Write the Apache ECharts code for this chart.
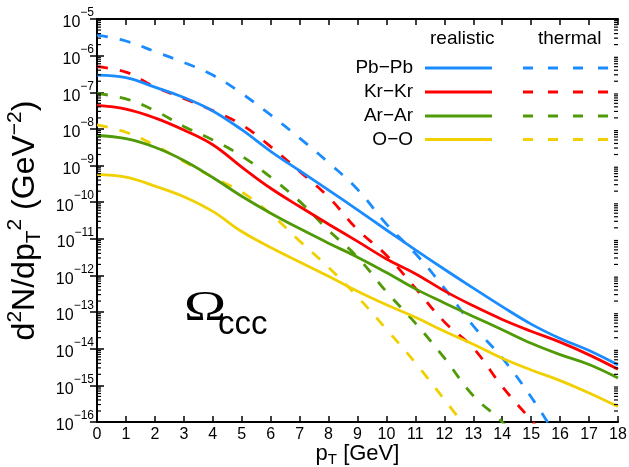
<!DOCTYPE html>
<html>
<head>
<meta charset="utf-8">
<script src="https://cdn.jsdelivr.net/npm/echarts@6/dist/echarts.min.js"></script>
<style>
html,body{margin:0;padding:0;background:#fff;}
#chart{width:629px;height:467px;}
</style>
</head>
<body>
<div id="chart"></div>
<script>
// ---- data ----
const pT = [0,1,2,3,4,5,6,7,8,9,10,11,12,13,14,15,16,17,18];
const systems = ['Pb\u2212Pb', 'Kr\u2212Kr', 'Ar\u2212Ar', 'O\u2212O'];
const colors = ['#1a8cff', '#ff0000', '#4f9a06', '#f0d000'];

// realistic (solid)
const pbRealistic = [2.95e-7,2.51e-7,1.38e-7,7.2e-8,3.1e-8,9.5e-9,2.45e-9,7.2e-10,2.14e-10,6.2e-11,1.74e-11,5.0e-12,1.48e-12,4.5e-13,1.41e-13,4.7e-14,1.9e-14,8.9e-15,3.6e-15];
const krRealistic = [4.37e-8,3.47e-8,2.0e-8,9.3e-9,3.7e-9,9.1e-10,2.4e-10,7.6e-11,2.51e-11,8.5e-12,2.82e-12,1.12e-12,3.8e-13,1.48e-13,6.3e-14,3.0e-14,1.51e-14,6.8e-15,2.75e-15];
const arRealistic = [6.6e-9,5.4e-9,3.16e-9,1.38e-9,4.7e-10,1.45e-10,5.0e-11,1.9e-11,7.6e-12,3.16e-12,1.2e-12,4.3e-13,1.78e-13,7.6e-14,3.3e-14,1.41e-14,6.9e-15,3.7e-15,1.58e-15];
const ooRealistic = [5.75e-10,4.8e-10,2.75e-10,1.41e-10,5.6e-11,1.58e-11,5.8e-12,2.34e-12,9.5e-13,3.7e-13,1.58e-13,7.2e-14,3.0e-14,1.32e-14,5.5e-15,2.63e-15,1.35e-15,6.2e-16,2.63e-16];

// thermal (dashed)
const pbThermal = [3.63e-6,2.51e-6,1.29e-6,6.5e-7,2.95e-7,9.3e-8,2.4e-8,5.6e-9,1.2e-9,2.24e-10,2.51e-11,3.98e-12,4.5e-13,4.2e-14,5.6e-15,4.8e-16,2.8e-17];
const krThermal = [5.0e-7,3.55e-7,1.4e-7,6.8e-8,3.16e-8,1.29e-8,3.3e-9,6.9e-10,1.38e-10,1.78e-11,3.55e-12,4.5e-13,5.4e-14,1.05e-14,9.3e-16,1.12e-16,1.26e-17];
const arThermal = [9.3e-8,6.6e-8,3.16e-8,1.17e-8,5.0e-9,1.82e-9,4.8e-10,1.05e-10,1.7e-11,3.16e-12,3.6e-13,5.0e-14,5.6e-15,5.2e-16,1.0e-16,1.0e-17];
const ooThermal = [1.29e-8,8.1e-9,3.55e-9,1.29e-9,4.8e-10,1.9e-10,4.8e-11,8.7e-12,1.66e-12,2.63e-13,3.4e-14,4.1e-15,4.1e-16,4.0e-17];

const yDecades = [-16,-15,-14,-13,-12,-11,-10,-9,-8,-7,-6,-5];
const minorMantissas = [2,3,4,5,6,7,8,9];

// ---- build ----
const FONT = '"Liberation Sans", Arial, Helvetica, sans-serif';
function pairs(vals){ return vals.map((v,i)=>[pT[i], v]); }

const realistic = [pbRealistic, krRealistic, arRealistic, ooRealistic];
const thermal = [pbThermal, krThermal, arThermal, ooThermal];

const series = [];
realistic.forEach((vals, i) => {
  series.push({
    type: 'line', name: systems[i] + ' realistic', data: pairs(vals),
    showSymbol: false, smooth: 0.4, clip: true,
    lineStyle: {color: colors[i], width: 2.8, type: 'solid'},
    z: 3
  });
});
thermal.forEach((vals, i) => {
  series.push({
    type: 'line', name: systems[i] + ' thermal', data: pairs(vals),
    showSymbol: false, smooth: 0.4, clip: true,
    lineStyle: {color: colors[i], width: 2.8, type: [11, 12]},
    z: 2
  });
});

// minor ticks of the log axis (both sides) at k*10^n
const minorData = [];
yDecades.slice(0, -1).forEach(n => minorMantissas.forEach(k => minorData.push([0, k * Math.pow(10, n)])));
series.push({
  type: 'custom', data: minorData, silent: true, z: 5, clip: false,
  encode: {x: 0, y: 1},
  renderItem: function(params, api){
    const p = api.coord([0, api.value(1)]);
    const cs = params.coordSys;
    const xl = cs.x, xr = cs.x + cs.width;
    return {type: 'group', children: [
      {type: 'line', shape: {x1: xl, y1: p[1], x2: xl + 4, y2: p[1]}, style: {stroke: '#000', lineWidth: 1.2}},
      {type: 'line', shape: {x1: xr, y1: p[1], x2: xr - 4, y2: p[1]}, style: {stroke: '#000', lineWidth: 1.2}}
    ]};
  }
});

function yLabel(v){
  const e = Math.round(Math.log10(v));
  return '{b|10}{s|\u2212' + (-e) + '}';
}

const axisLineStyle = {color: '#000', width: 2};

// legend (graphic)
const legendRowsY = [68, 92, 116, 139.5];
const graphic = [
  {type: 'text', style: {x: 430, y: 39, text: 'realistic', font: '19px ' + FONT, fill: '#000', verticalAlign: 'middle'}},
  {type: 'text', style: {x: 538, y: 39, text: 'thermal', font: '19px ' + FONT, fill: '#000', verticalAlign: 'middle'}}
];
systems.forEach((s, i) => {
  const y = legendRowsY[i];
  graphic.push({type: 'text', style: {x: 413, y: y, text: s, font: '19px ' + FONT, fill: '#000', align: 'right', verticalAlign: 'middle'}});
  graphic.push({type: 'line', shape: {x1: 425, y1: y, x2: 492, y2: y}, style: {stroke: colors[i], lineWidth: 2.8}});
  graphic.push({type: 'line', shape: {x1: 523, y1: y, x2: 608, y2: y}, style: {stroke: colors[i], lineWidth: 2.8, lineDash: [10, 15]}});
});
// Omega_ccc label
graphic.push({type: 'text', x: 184, y: 309, scaleX: 1.35, style: {x: 0, y: 0, text: '\u03A9', font: '42px "Liberation Serif", "Times New Roman", serif', fill: '#000', verticalAlign: 'middle'}});
graphic.push({type: 'text', style: {x: 218, y: 325, text: 'ccc', font: '33px ' + FONT, fill: '#000', verticalAlign: 'middle'}});

const option = {
  animation: false,
  backgroundColor: '#fff',
  grid: {left: 97, right: 11, top: 19, bottom: 45, containLabel: false, outerBoundsMode: 'none'},
  xAxis: [{
    type: 'value', min: 0, max: 18, interval: 1, position: 'bottom',
    name: '{p|p}{t|T}{p| [GeV]}', nameLocation: 'middle', nameGap: 19, nameMoveOverlap: false,
    nameTextStyle: {verticalAlign: 'top', rich: {
      p: {fontSize: 22, fontFamily: FONT, color: '#000', lineHeight: 26},
      t: {fontSize: 15, fontFamily: FONT, color: '#000', lineHeight: 14, verticalAlign: 'bottom'}
    }},
    axisLine: {show: true, lineStyle: axisLineStyle},
    axisTick: {show: true, inside: true, length: 6, lineStyle: {color: '#000', width: 1.5}},
    axisLabel: {fontSize: 16, fontFamily: FONT, color: '#000', margin: 5},
    splitLine: {show: false}
  }, {
    type: 'value', min: 0, max: 18, interval: 1, position: 'top',
    axisLine: {show: true, lineStyle: axisLineStyle},
    axisTick: {show: true, inside: true, length: 6, lineStyle: {color: '#000', width: 1.5}},
    axisLabel: {show: false}, splitLine: {show: false}
  }],
  yAxis: [{
    type: 'log', logBase: 10, min: 1e-16, max: 1e-5, interval: 1, splitNumber: 11,
    name: '{n|d}{sup|2}{n|N/dp}{sub|T}{sup|2}{n| (GeV}{sup|\u22122}{n|)}',
    nameLocation: 'middle', nameRotate: 90, nameGap: 50,
    nameTextStyle: {rich: {
      n: {fontSize: 32, fontFamily: FONT, color: '#000', lineHeight: 40},
      sup: {fontSize: 21, fontFamily: FONT, color: '#000', lineHeight: 20, verticalAlign: 'top'},
      sub: {fontSize: 21, fontFamily: FONT, color: '#000', lineHeight: 20, verticalAlign: 'bottom'}
    }},
    axisLine: {show: true, lineStyle: axisLineStyle},
    axisTick: {show: true, inside: true, length: 7, lineStyle: {color: '#000', width: 1.5}},
    axisLabel: {
      formatter: yLabel, margin: 3,
      rich: {
        b: {fontSize: 16, fontFamily: FONT, color: '#000', lineHeight: 24, verticalAlign: 'bottom'},
        s: {fontSize: 12, fontFamily: FONT, color: '#000', lineHeight: 14, verticalAlign: 'top'}
      }
    },
    splitLine: {show: false}
  }, {
    type: 'log', logBase: 10, min: 1e-16, max: 1e-5, interval: 1, splitNumber: 11, position: 'right',
    axisLine: {show: true, lineStyle: axisLineStyle},
    axisTick: {show: true, inside: true, length: 7, lineStyle: {color: '#000', width: 1.5}},
    axisLabel: {show: false}, splitLine: {show: false}
  }],
  graphic: graphic,
  series: series
};

const chart = echarts.init(document.getElementById('chart'), null, {renderer: 'canvas'});
chart.setOption(option);
</script>
</body>
</html>
